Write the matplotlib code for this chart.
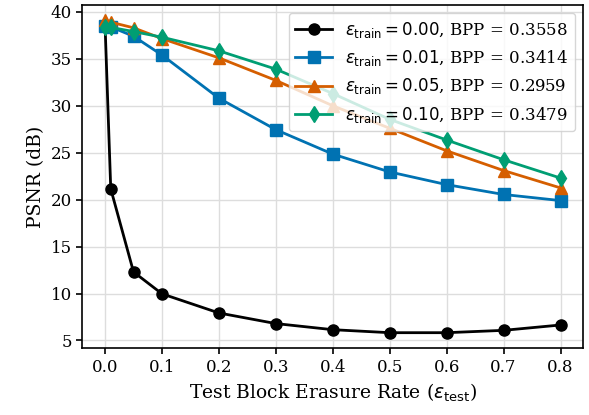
import numpy as np
import matplotlib.pyplot as plt

plt.rcParams['font.family'] = 'DejaVu Serif'
plt.rcParams['mathtext.fontset'] = 'dejavusans'

# test erasure rates
eps_test = [0.0, 0.01, 0.05, 0.1, 0.2, 0.3, 0.4, 0.5, 0.6, 0.7, 0.8]

# PSNR (dB) for each training erasure rate
psnr_000 = [38.6, 21.15, 12.3, 9.97, 7.93, 6.8, 6.15, 5.83, 5.83, 6.08, 6.65]
psnr_001 = [38.5, 38.4, 37.4, 35.4, 30.8, 27.45, 24.85, 22.95, 21.6, 20.55, 19.9]
psnr_005 = [39.1, 38.9, 38.3, 37.15, 35.1, 32.7, 30.0, 27.6, 25.2, 23.1, 21.25]
psnr_010 = [38.4, 38.35, 37.9, 37.3, 35.85, 33.9, 31.3, 28.55, 26.35, 24.25, 22.3]

labels = [r'$\epsilon_{\mathrm{train}} = 0.00$, BPP = 0.3558',
          r'$\epsilon_{\mathrm{train}} = 0.01$, BPP = 0.3414',
          r'$\epsilon_{\mathrm{train}} = 0.05$, BPP = 0.2959',
          r'$\epsilon_{\mathrm{train}} = 0.10$, BPP = 0.3479']
colors = ['black', '#0072B2', '#D55E00', '#009E73']
markers = ['o', 's', '^', 'd']

fig, ax = plt.subplots(figsize=(5.89, 4.15), dpi=100)
fig.subplots_adjust(left=0.1397, right=0.9903, top=0.9887, bottom=0.1607)

for ys, lab, c, m in zip([psnr_000, psnr_001, psnr_005, psnr_010], labels, colors, markers):
    ax.plot(eps_test, ys, marker=m, color=c, label=lab, linewidth=2, markersize=8)

ax.grid(True, color='#dddddd', linewidth=1)
ax.set_axisbelow(True)
ax.set_xticks(np.arange(0, 0.81, 0.1))
ax.set_yticks(np.arange(5, 41, 5))
ax.tick_params(labelsize=12, width=1.2, length=4)
for s in ax.spines.values():
    s.set_linewidth(1.2)
ax.set_xlabel(r'Test Block Erasure Rate ($\epsilon_{\mathrm{test}}$)', fontsize=13.5)
ax.set_ylabel('PSNR (dB)', fontsize=13.5)
ax.legend(loc='upper right', fontsize=12, framealpha=0.8, handlelength=2.2)

fig.savefig('out.png', dpi=100)
